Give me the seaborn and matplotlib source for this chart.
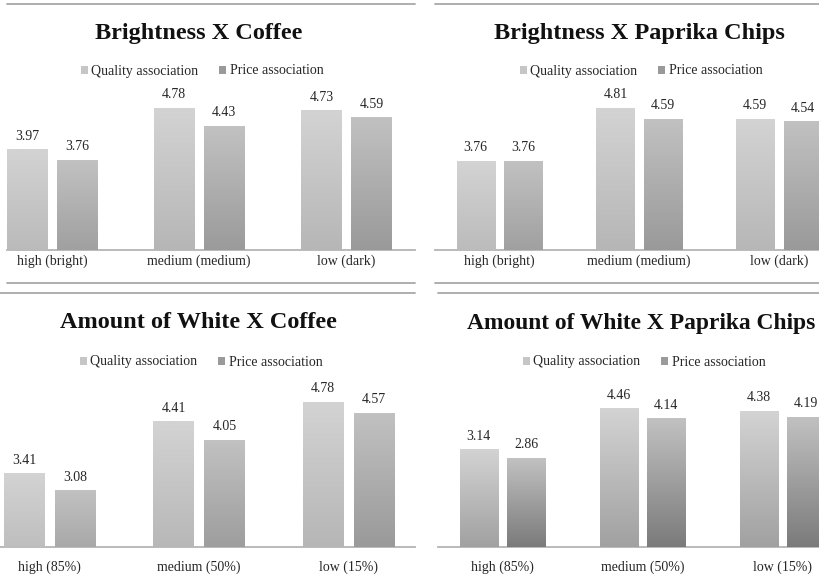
import numpy as np
import pandas as pd
import matplotlib
matplotlib.use("Agg")
import matplotlib.pyplot as plt
from matplotlib.lines import Line2D
from matplotlib.patches import Patch
from matplotlib.colors import to_rgb
import seaborn as sns

# ---- data -------------------------------------------------------------
series_names = ["Quality association", "Price association"]

brightness_levels = ["high (bright)", "medium (medium)", "low (dark)"]
white_levels = ["high (85%)", "medium (50%)", "low (15%)"]

coffee_brightness_quality = [3.97, 4.78, 4.73]
coffee_brightness_price = [3.76, 4.43, 4.59]

chips_brightness_quality = [3.76, 4.81, 4.59]
chips_brightness_price = [3.76, 4.59, 4.54]

coffee_white_quality = [3.41, 4.41, 4.78]
coffee_white_price = [3.08, 4.05, 4.57]

chips_white_quality = [3.14, 4.46, 4.38]
chips_white_price = [2.86, 4.14, 4.19]

titles = ["Brightness X Coffee", "Brightness X Paprika Chips",
          "Amount of White X Coffee", "Amount of White X Paprika Chips"]

# ---- style ------------------------------------------------------------
sns.set_theme(style="white")
plt.rcParams["font.family"] = ["Liberation Serif", "DejaVu Serif"]

W, H = 820, 579
fig = plt.figure(figsize=(W / 100, H / 100), dpi=100)
fig.patch.set_facecolor("white")

# gradient colours (top, bottom) per series
grad = {
    "Quality association": ("#d3d3d3", "#a1a1a1"),
    "Price association": ("#c1c1c1", "#7b7b7b"),
}
legend_col = {"Quality association": "#c6c6c6", "Price association": "#9a9a9a"}
line_col = "#a8a8a8"
text_col = "#262626"
small = 10


def px_rect(x0, x1, ytop, ybase):
    return [x0 / W, 1 - ybase / H, (x1 - x0) / W, (ybase - ytop) / H]


def hline(x0, x1, y):
    fig.add_artist(Line2D([x0 / W, x1 / W], [1 - y / H, 1 - y / H],
                          transform=fig.transFigure, color=line_col, lw=1.3))


def gradient_bar(ax, patch, top_c, bot_c):
    x0, y0 = patch.get_x(), patch.get_y()
    w, h = patch.get_width(), patch.get_height()
    t = np.linspace(0, 1, 128)[:, None]
    c0, c1 = np.array(to_rgb(top_c)), np.array(to_rgb(bot_c))
    img = (c0[None, None, :] * (1 - t[..., None]) + c1[None, None, :] * t[..., None])
    img = np.repeat(img, 2, axis=1)
    ax.imshow(img, extent=[x0, x0 + w, y0, y0 + h], origin="upper",
              aspect="auto", zorder=3, interpolation="bilinear")
    patch.set_visible(False)


panels = [
    dict(x0=7, x1=415, ybase=250, ytop=95, ymin=2.0, ppu=51.0,
         xlim=(-0.306, 2.466), cats=brightness_levels,
         q=coffee_brightness_quality, p=coffee_brightness_price,
         title=titles[0], tsize=17.5, txy=(199, 33), lxy=(202, 71), pad=3),
    dict(x0=435, x1=820, ybase=250, ytop=95, ymin=2.0, ppu=50.5,
         xlim=(-0.461, 2.293), cats=brightness_levels,
         q=chips_brightness_quality, p=chips_brightness_price,
         title=titles[1], tsize=17.5, txy=(639, 33), lxy=(641, 71), pad=3),
    dict(x0=0, x1=415, ybase=547, ytop=385, ymin=2.0, ppu=52.0,
         xlim=(-0.331, 2.445), cats=white_levels,
         q=coffee_white_quality, p=coffee_white_price,
         title=titles[2], tsize=17.5, txy=(198, 323), lxy=(201, 362), pad=10),
    dict(x0=438, x1=820, ybase=547, ytop=385, ymin=0.0, ppu=31.0,
         xlim=(-0.461, 2.268), cats=white_levels,
         q=chips_white_quality, p=chips_white_price,
         title=titles[3], tsize=16.9, txy=(641, 323), lxy=(644, 362), pad=10),
]

for pn in panels:
    ax = fig.add_axes(px_rect(pn["x0"], pn["x1"], pn["ytop"], pn["ybase"]))
    df = pd.DataFrame({
        "level": pn["cats"] * 2,
        "series": [series_names[0]] * 3 + [series_names[1]] * 3,
        "value": list(pn["q"]) + list(pn["p"]),
    })
    sns.barplot(data=df, x="level", y="value", hue="series",
                hue_order=series_names, order=pn["cats"],
                width=0.68, gap=0.2, legend=False, ax=ax,
                palette=[legend_col[s] for s in series_names],
                linewidth=0, errorbar=None)

    for cont, name in zip(ax.containers, series_names):
        for bar in cont:
            gradient_bar(ax, bar, *grad[name])
        ax.bar_label(cont, fmt="%.2f", padding=5, fontsize=small,
                     color=text_col, zorder=4)

    ymax = pn["ymin"] + (pn["ybase"] - pn["ytop"]) / pn["ppu"]
    ax.set_ylim(pn["ymin"], ymax)
    ax.set_xlim(*pn["xlim"])
    ax.set_xlabel("")
    ax.set_ylabel("")
    ax.set_yticks([])
    ax.tick_params(axis="x", length=0, pad=pn["pad"], labelsize=small,
                   labelcolor=text_col)
    for side in ("top", "left", "right"):
        ax.spines[side].set_visible(False)
    ax.spines["bottom"].set_color("#b4b4b4")
    ax.spines["bottom"].set_linewidth(1.3)
    ax.patch.set_alpha(0)

    fig.text(pn["txy"][0] / W, 1 - pn["txy"][1] / H, pn["title"],
             ha="center", va="center", fontsize=pn["tsize"], fontweight="bold",
             color="#111111")

    handles = [Patch(facecolor=legend_col[s], edgecolor="none") for s in series_names]
    fig.legend(handles, series_names, loc="center",
               bbox_to_anchor=(pn["lxy"][0] / W, 1 - pn["lxy"][1] / H),
               ncol=2, frameon=False, fontsize=small, handlelength=0.5,
               handleheight=0.5, handletextpad=0.25, columnspacing=1.5,
               labelcolor=text_col)

# frame rules above and below each chart
hline(7, 415, 4)
hline(435, 820, 4)
hline(7, 415, 283)
hline(435, 820, 283)
hline(0, 415, 293)
hline(438, 820, 293)

fig.savefig("out.png", dpi=100, facecolor="white")
